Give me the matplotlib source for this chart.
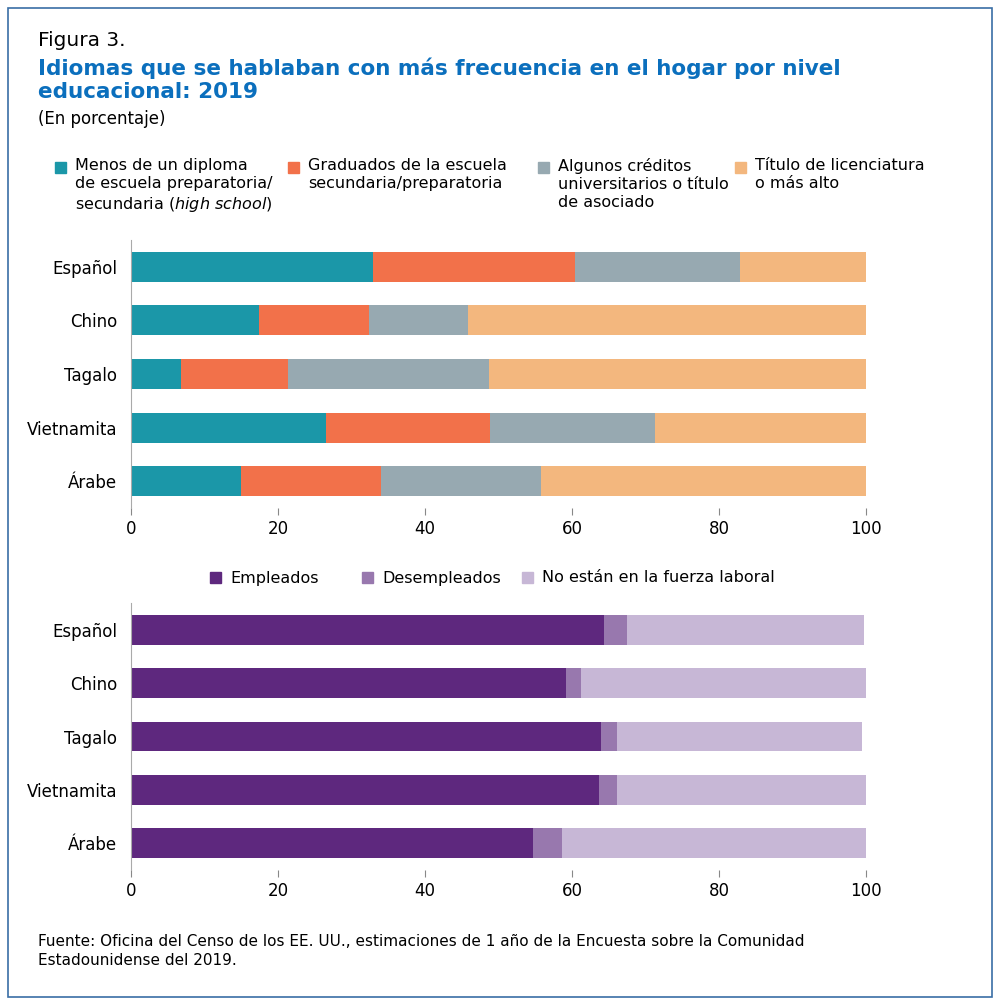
import matplotlib.pyplot as plt
from matplotlib.patches import Rectangle

idiomas = ["Español", "Chino", "Tagalo", "Vietnamita", "Árabe"]

# Nivel educacional (porcentaje)
menos_hs = [32.9, 17.4, 6.8, 26.5, 15.0]
graduados = [27.5, 15.0, 14.6, 22.3, 19.0]
algunos = [22.5, 13.5, 27.3, 22.5, 21.8]
licenciatura = [17.1, 54.1, 51.3, 28.7, 44.2]

# Situación laboral (porcentaje)
empleados = [64.4, 59.2, 63.9, 63.7, 54.7]
desempleados = [3.1, 2.0, 2.2, 2.4, 3.9]
no_fuerza = [32.2, 38.8, 33.4, 33.9, 41.4]

edu_labels = ["Menos de un diploma\nde escuela preparatoria/\nsecundaria $\\it{(high\\ school)}$",
              "Graduados de la escuela\nsecundaria/preparatoria",
              "Algunos créditos\nuniversitarios o título\nde asociado",
              "Título de licenciatura\no más alto"]
edu_colors = ["#1b97a8", "#f2714a", "#97a9b1", "#f3b77e"]
lab_labels = ["Empleados", "Desempleados", "No están en la fuerza laboral"]
lab_colors = ["#5e287e", "#9878ae", "#c7b7d6"]

plt.rcParams['font.family'] = ['DejaVu Sans']
fig = plt.figure(figsize=(10, 10.05), dpi=100)
W, H = 1000, 1005

fig.patches.append(Rectangle((8 / W, 8 / H), 984 / W, 989 / H, transform=fig.transFigure,
                             fill=False, edgecolor="#3a6ea5", linewidth=1.2))

fig.text(38 / W, 1 - 40 / H, "Figura 3.", fontsize=14.5, va="center")
fig.text(38 / W, 1 - 80 / H, "Idiomas que se hablaban con más frecuencia en el hogar por nivel\neducacional: 2019",
         fontsize=15.5, fontweight="bold", color="#0b6fbd", va="center", linespacing=1.2)
fig.text(38 / W, 1 - 119 / H, "(En porcentaje)", fontsize=12, va="center")


def barras(ax, series, colores):
    y = range(len(idiomas))
    izq = [0] * len(idiomas)
    for vals, c in zip(series, colores):
        ax.barh(y, vals, left=izq, color=c, height=0.56)
        izq = [a + b for a, b in zip(izq, vals)]
    ax.set_yticks(list(y))
    ax.set_yticklabels(idiomas, fontsize=12)
    ax.invert_yaxis()
    ax.set_xlim(0, 100)
    ax.set_ylim(4.5, -0.5)
    ax.set_xticks([0, 20, 40, 60, 80, 100])
    ax.tick_params(axis="x", labelsize=12, length=5, color="#888888")
    ax.tick_params(axis="y", length=0, pad=10)
    for s in ["top", "right", "bottom"]:
        ax.spines[s].set_visible(False)
    ax.spines["left"].set_color("#aaaaaa")


ax1 = fig.add_axes([131 / W, 1 - 508 / H, 735 / W, 268 / H])
barras(ax1, [menos_hs, graduados, algunos, licenciatura], edu_colors)
ax2 = fig.add_axes([131 / W, 1 - 870 / H, 735 / W, 267 / H])
barras(ax2, [empleados, desempleados, no_fuerza], lab_colors)

# leyendas
xs = [55, 288, 538, 735]
for x, lab, c in zip(xs, edu_labels, edu_colors):
    fig.patches.append(Rectangle((x / W, 1 - 173 / H), 11 / W, 11 / H, transform=fig.transFigure, color=c))
    fig.text((x + 20) / W, 1 - 158 / H, lab, fontsize=11.5, va="top", linespacing=1.25)

xs2 = [210, 362, 522]
for x, lab, c in zip(xs2, lab_labels, lab_colors):
    fig.patches.append(Rectangle((x / W, 1 - 583 / H), 11 / W, 11 / H, transform=fig.transFigure, color=c))
    fig.text((x + 20) / W, 1 - 578 / H, lab, fontsize=11.5, va="center")

fig.text(38 / W, 1 - 951 / H,
         "Fuente: Oficina del Censo de los EE. UU., estimaciones de 1 año de la Encuesta sobre la Comunidad\nEstadounidense del 2019.",
         fontsize=11, va="center", linespacing=1.3)

fig.savefig("out.png", dpi=100)
